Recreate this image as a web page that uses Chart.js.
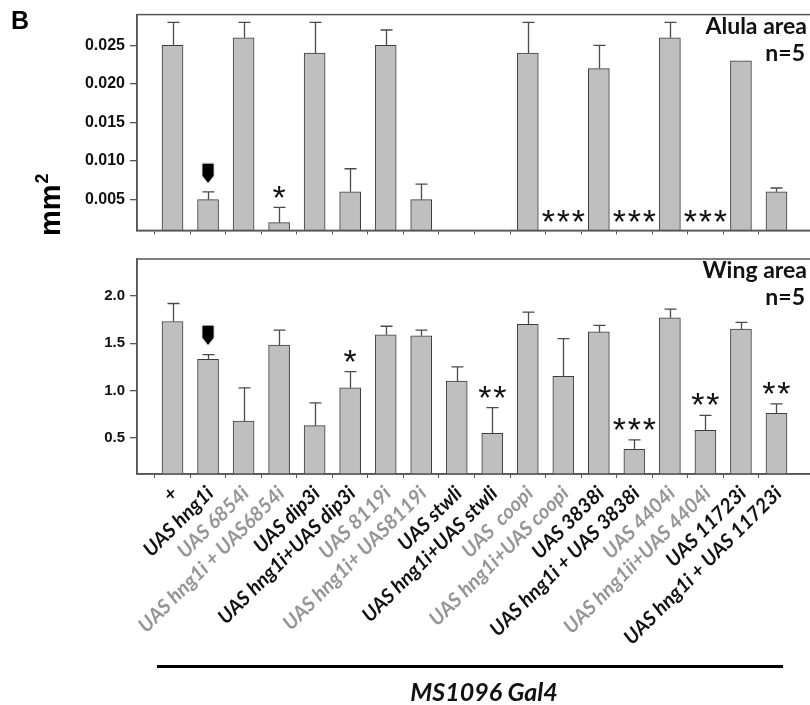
<!DOCTYPE html>
<html>
<head>
<meta charset="utf-8">
<script src="https://cdn.jsdelivr.net/npm/chart.js@4.4.1/dist/chart.umd.min.js"></script>
<style>
  html, body { margin: 0; padding: 0; background: #fff; width: 810px; height: 705px; overflow: hidden; }
  #wrap { position: relative; width: 812px; height: 705px; }
  #c1 { position: absolute; left: 0; top: 0; }
  #c2 { position: absolute; left: 0; top: 245px; }
</style>
</head>
<body>
<div id="wrap">
  <canvas id="c1" width="812" height="245"></canvas>
  <canvas id="c2" width="812" height="460"></canvas>
</div>
<script>
// ---------------- data ----------------
const categories = [
  '+', 'UAS hng1i', 'UAS 6854i', 'UAS hng1i + UAS6854i', 'UAS dip3i', 'UAS hng1i+UAS dip3i',
  'UAS 8119i', 'UAS hng1i+ UAS8119i', 'UAS stwli', 'UAS hng1i+UAS stwli', 'UAS  coopi',
  'UAS hng1i+UAS coopi', 'UAS 3838i', 'UAS hng1i + UAS 3838i', 'UAS 4404i',
  'UAS hng1ii+UAS 4404i', 'UAS 11723i', 'UAS hng1i + UAS 11723i'
];
const grayLabelIdx = [2, 3, 6, 7, 10, 11, 14, 15];

const alulaMean = [0.025, 0.005, 0.026, 0.002, 0.024, 0.006, 0.025, 0.005, null, null,
                   0.024, null, 0.022, null, 0.026, null, 0.023, 0.006];
const alulaErr  = [0.003, 0.001, 0.002, 0.002, 0.004, 0.003, 0.002, 0.002, null, null,
                   0.004, null, 0.003, null, 0.002, null, 0, 0.0005];
const alulaSig  = ['', 'arrow', '', '*', '', '', '', '', '', '',
                   '', '***', '', '***', '', '***', '', ''];

const wingMean = [1.73, 1.33, 0.68, 1.48, 0.63, 1.03, 1.59, 1.58, 1.10, 0.55,
                  1.70, 1.15, 1.62, 0.38, 1.77, 0.58, 1.65, 0.76];
const wingErr  = [0.19, 0.05, 0.35, 0.16, 0.24, 0.17, 0.09, 0.06, 0.15, 0.27,
                  0.13, 0.40, 0.07, 0.10, 0.09, 0.16, 0.07, 0.10];
const wingSig  = ['', 'arrow', '', '', '', '*', '', '', '', '**',
                  '', '', '', '***', '', '**', '', '**'];

const alulaTicks = [0.005, 0.010, 0.015, 0.020, 0.025];
const alulaTickLabels = ['0.005', '0.010', '0.015', '0.020', '0.025'];
const wingTicks = [0.5, 1.0, 1.5, 2.0];
const wingTickLabels = ['0.5', '1.0', '1.5', '2.0'];

// padded (one empty slot each side of the category axis)
const pad = arr => [null, ...arr, null];
const paddedLabels = ['', ...categories, ''];

// ---------------- styling ----------------
const BAR_FILL = '#bfbfbf';
const BAR_EDGE = '#3c3c3c';
const AXIS = '#555555';
const ERR = '#4a4a4a';

// ---------------- plugins ----------------
const panelPlugin = {
  id: 'panel',
  afterDatasetsDraw(chart, args, opts) {
    const ctx = chart.ctx;
    const a = chart.chartArea;
    const ys = chart.scales.y;
    const meta = chart.getDatasetMeta(0);
    const mean = opts.mean, err = opts.err, sig = opts.sig;
    ctx.save();
    // error bars (upper)
    ctx.strokeStyle = ERR;
    ctx.lineWidth = 1.3;
    for (let i = 0; i < mean.length; i++) {
      if (mean[i] == null || !err[i]) continue;
      const el = meta.data[i + 1];
      const x = Math.round(el.x) + 0.5;
      const y0 = ys.getPixelForValue(mean[i]);
      const y1 = ys.getPixelForValue(mean[i] + err[i]);
      ctx.beginPath();
      ctx.moveTo(x, y0); ctx.lineTo(x, y1);
      ctx.moveTo(x - 6, y1); ctx.lineTo(x + 6, y1);
      ctx.stroke();
    }
    // significance marks
    for (let i = 0; i < sig.length; i++) {
      const s = sig[i];
      if (!s) continue;
      const el = meta.data[i + 1];
      const x = el.x;
      let yRef;
      if (mean[i] != null) {
        yRef = ys.getPixelForValue(mean[i] + (err[i] || 0)) - opts.gap;
      } else {
        yRef = a.bottom - 8;
      }
      if (s === 'arrow') {
        const w = 11, top = yRef - 19;
        ctx.fillStyle = '#000';
        ctx.shadowColor = 'rgba(0,0,0,0.5)';
        ctx.shadowBlur = 2;
        ctx.beginPath();
        ctx.moveTo(x - w / 2, top);
        ctx.lineTo(x + w / 2, top);
        ctx.lineTo(x + w / 2, top + 12);
        ctx.lineTo(x, yRef);
        ctx.lineTo(x - w / 2, top + 12);
        ctx.closePath();
        ctx.fill();
        ctx.shadowBlur = 0;
        ctx.shadowColor = 'transparent';
      } else {
        ctx.fillStyle = '#111';
        ctx.font = '34px "Liberation Sans", Arial, sans-serif';
        ctx.textAlign = 'center';
        ctx.textBaseline = 'alphabetic';
        const m = ctx.measureText('*');
        const asc = m.actualBoundingBoxAscent, desc = m.actualBoundingBoxDescent;
        const cy = yRef - (asc + desc) / 2; // center of glyph box
        const base = cy + (asc - desc) / 2;
        const n = s.length, sp = 15;
        for (let k = 0; k < n; k++) {
          ctx.fillText('*', x + (k - (n - 1) / 2) * sp, base);
        }
      }
    }
    // box around panel
    ctx.strokeStyle = AXIS;
    ctx.lineWidth = 1.5;
    ctx.strokeRect(a.left, a.top, a.right - a.left, a.bottom - a.top);
    // panel titles
    ctx.fillStyle = '#111';
    ctx.font = 'bold 23px Lato, "Open Sans", sans-serif';
    ctx.textAlign = 'right';
    ctx.textBaseline = 'alphabetic';
    ctx.fillText(opts.title, a.right - 5, a.top + 19);
    ctx.fillText('n=5', a.right - 7, a.top + 46);
    ctx.restore();
  }
};

// rotated category labels, placed at the x scale's tick pixels
const catLabels = {
  id: 'catLabels',
  afterDraw(chart, args, opts) {
    if (!opts.show) return;
    const ctx = chart.ctx;
    const xs = chart.scales.x;
    const a = chart.chartArea;
    ctx.save();
    ctx.font = 'italic bold 20px Lato, "Open Sans", sans-serif';
    ctx.textAlign = 'right';
    ctx.textBaseline = 'middle';
    categories.forEach((lab, i) => {
      const px = xs.getPixelForTick(i + 1);
      ctx.save();
      ctx.translate(px + opts.dx, a.bottom + opts.dy);
      ctx.rotate(-Math.PI / 4);
      ctx.fillStyle = grayLabelIdx.includes(i) ? '#959595' : '#111';
      ctx.fillText(lab, 0, 0);
      ctx.restore();
    });
    ctx.restore();
  }
};

const decoTop = {
  id: 'decoTop',
  afterDraw(chart) {
    const ctx = chart.ctx;
    ctx.save();
    ctx.fillStyle = '#000';
    ctx.font = 'bold 25px "Liberation Sans", Arial, sans-serif';
    ctx.textAlign = 'left';
    ctx.textBaseline = 'alphabetic';
    ctx.fillText('B', 11, 29);
    // y-axis title mm²
    ctx.translate(60, 236);
    ctx.rotate(-Math.PI / 2);
    ctx.font = 'bold 29px "Liberation Sans", Arial, sans-serif';
    ctx.fillText('mm', 0, 0);
    const w = ctx.measureText('mm').width;
    ctx.font = 'bold 18px "Liberation Sans", Arial, sans-serif';
    ctx.fillText('2', w + 1, -12);
    ctx.restore();
  }
};

const decoBottom = {
  id: 'decoBottom',
  afterDraw(chart) {
    const ctx = chart.ctx;
    ctx.save();
    ctx.strokeStyle = '#000';
    ctx.lineWidth = 3;
    ctx.beginPath();
    ctx.moveTo(157, 421.5);
    ctx.lineTo(783, 421.5);
    ctx.stroke();
    ctx.fillStyle = '#111';
    ctx.font = 'italic bold 25px Lato, "Open Sans", sans-serif';
    ctx.textAlign = 'center';
    ctx.textBaseline = 'alphabetic';
    ctx.fillText('MS1096 Gal4', 484, 456);
    ctx.restore();
  }
};

function makeChart(canvasId, mean, err, sig, yMin, yMax, ticks, tickLabels, opts) {
  const tickFont = opts.tickFont;
  return new Chart(document.getElementById(canvasId), {
    type: 'bar',
    data: {
      labels: paddedLabels,
      datasets: [{
        data: pad(mean),
        backgroundColor: BAR_FILL,
        borderColor: BAR_EDGE,
        borderWidth: 1,
        barThickness: 21,
        borderSkipped: false
      }]
    },
    options: {
      responsive: false,
      animation: false,
      devicePixelRatio: 1,
      layout: { padding: { top: opts.padTop, left: 0, right: 0, bottom: 0 } },
      plugins: {
        legend: { display: false },
        tooltip: { enabled: false },
        panel: { mean, err, sig, gap: opts.gap, title: opts.title },
        catLabels: { show: opts.showLabels, dx: 2, dy: 16 }
      },
      scales: {
        x: {
          type: 'category',
          offset: false,
          grid: {
            display: true, drawOnChartArea: false, drawTicks: true, tickLength: 4,
            color: c => (c.index === 0 || c.index === paddedLabels.length - 1) ? 'rgba(0,0,0,0)' : AXIS
          },
          border: { display: true, color: AXIS, width: 1.5 },
          ticks: { display: false },
          afterFit: s => { s.height = opts.xHeight; }
        },
        y: {
          min: yMin,
          max: yMax,
          afterBuildTicks: s => { s.ticks = ticks.map(v => ({ value: v })); },
          grid: { display: true, drawOnChartArea: false, drawTicks: true, tickLength: 7, color: AXIS, lineWidth: 1.3 },
          border: { display: true, color: AXIS, width: 1.5 },
          ticks: {
            padding: 5,
            color: '#111',
            font: { family: '"Liberation Sans", Arial, sans-serif', size: tickFont, weight: 'bold' },
            callback: v => { const i = ticks.findIndex(t => Math.abs(t - v) < 1e-9); return i >= 0 ? tickLabels[i] : ''; }
          },
          afterFit: s => { s.width = 137; }
        }
      }
    },
    plugins: opts.extra
  });
}

makeChart('c1', alulaMean, alulaErr, alulaSig, 0.001, 0.029, alulaTicks, alulaTickLabels,
  { padTop: 13, xHeight: 6, showLabels: false, gap: 9, title: 'Alula area', tickFont: 16, extra: [panelPlugin, decoTop, catLabels] });

makeChart('c2', wingMean, wingErr, wingSig, 0.12, 2.39, wingTicks, wingTickLabels,
  { padTop: 6, xHeight: 231, showLabels: true, gap: 10, title: 'Wing area', tickFont: 15, extra: [panelPlugin, decoBottom, catLabels] });
</script>
</body>
</html>
